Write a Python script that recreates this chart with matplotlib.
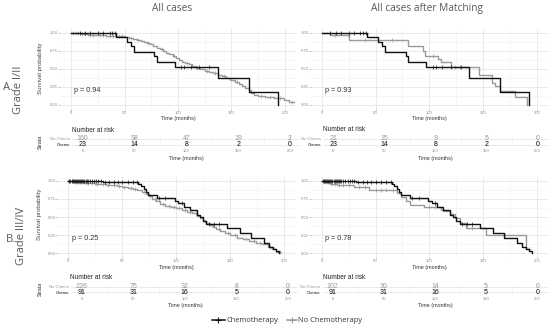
import numpy as np
import matplotlib
matplotlib.use("Agg")
import matplotlib.pyplot as plt
from matplotlib.lines import Line2D

W, H = 550, 327
plt.rcParams['font.family'] = ['Liberation Sans', 'DejaVu Sans']

BLACK = "#111111"
GREY = "#9a9a9a"
LABEL = "#595959"
OUTER_FONT = ['Open Sans', 'DejaVu Sans']

# ---- data ----
# Grade I/II, chemotherapy (same group in both columns)
chemo12_t = [0, 42, 52, 56, 59, 78, 80, 97, 137, 166, 193]
chemo12_s = [1.0, 0.94, 0.87, 0.82, 0.735, 0.67, 0.59, 0.53, 0.37, 0.18, 0.0]
chemo12_end = 193
chemo12_cens = [8, 13, 18, 25, 30, 36, 38, 41, 103, 106, 112, 120, 129]

# Grade I/II, no chemotherapy, all cases
nochemo12_t = [0, 4, 9, 16, 24, 33, 42, 50, 54, 58, 62, 65, 68, 71, 74, 77, 80, 83, 86, 89,
               92, 95, 98, 101, 104, 107, 110, 113, 117, 121, 125, 129, 133, 137, 141, 145,
               149, 153, 157, 160, 163, 166, 168, 171, 175, 181, 190, 199, 204]
nochemo12_s = [1.0, 0.99, 0.98, 0.97, 0.965, 0.955, 0.95, 0.94, 0.925, 0.91, 0.9, 0.885, 0.87,
               0.855, 0.835, 0.815, 0.79, 0.77, 0.745, 0.72, 0.7, 0.675, 0.645, 0.625, 0.6, 0.58,
               0.56, 0.535, 0.515, 0.49, 0.475, 0.46, 0.44, 0.415, 0.395, 0.37, 0.345, 0.315,
               0.29, 0.265, 0.235, 0.2, 0.165, 0.14, 0.12, 0.105, 0.095, 0.07, 0.045]
nochemo12_end = 208
nochemo12_cens = [2, 5, 7, 10, 13, 18, 21, 27, 30, 36, 39, 45, 48, 56, 63, 72, 85, 96, 108,
                  118, 127, 135, 143, 155, 178, 186, 195, 207]

# Grade I/II, no chemotherapy, after matching
nochemo12m_t = [0, 8, 25, 80, 94, 96, 108, 111, 120, 146, 158, 161, 166, 180, 191]
nochemo12m_s = [1.0, 0.965, 0.89, 0.82, 0.745, 0.67, 0.63, 0.60, 0.53, 0.41, 0.31, 0.26, 0.19, 0.11, 0.0]
nochemo12m_end = 191
nochemo12m_cens = [12, 24, 40, 65, 103, 124, 128]

# Grade III/IV, chemotherapy (same group in both columns)
chemo34_t = [0, 32, 57, 65, 67, 70, 72, 74, 82, 99, 102, 107, 113, 119, 122, 125, 128, 147,
             159, 169, 181, 186, 190, 193, 195]
chemo34_s = [1.0, 0.99, 0.98, 0.955, 0.93, 0.895, 0.85, 0.80, 0.765, 0.725, 0.69, 0.64, 0.60,
             0.53, 0.50, 0.45, 0.40, 0.345, 0.275, 0.205, 0.14, 0.09, 0.06, 0.03, 0.0]
chemo34_end = 195
chemo34_cens = [1, 2, 3, 4, 5, 6, 7, 8, 9, 10, 11, 12, 13, 14, 15, 16, 17, 18, 20, 22, 24,
                26, 28, 30, 34, 38, 42, 46, 50, 55, 60, 64, 84, 90, 105, 130, 135, 140]

# Grade III/IV, no chemotherapy, all cases
nochemo34_t = [0, 2, 5, 10, 15, 20, 25, 30, 35, 40, 45, 50, 55, 60, 64, 68, 72, 75, 78, 81,
               85, 90, 95, 100, 105, 110, 115, 119, 122, 125, 128, 131, 134, 137, 141, 145,
               150, 156, 162, 168, 174, 180, 185, 189, 193]
nochemo34_s = [1.0, 0.995, 0.99, 0.98, 0.975, 0.97, 0.965, 0.955, 0.95, 0.94, 0.935, 0.92,
               0.905, 0.89, 0.875, 0.85, 0.82, 0.79, 0.755, 0.72, 0.68, 0.65, 0.64, 0.62, 0.60,
               0.575, 0.55, 0.51, 0.48, 0.45, 0.42, 0.39, 0.365, 0.34, 0.31, 0.28, 0.25, 0.215,
               0.19, 0.165, 0.145, 0.12, 0.09, 0.05, 0.02]
nochemo34_end = 196
nochemo34_cens = [1, 3, 4, 6, 8, 9, 11, 12, 14, 16, 18, 22, 27, 32, 37, 42, 47, 52, 58, 62,
                  70, 76, 80, 88, 93, 98, 103, 108, 113, 118, 127, 133, 140, 148, 155, 165,
                  172, 178, 187, 196]

# Grade III/IV, no chemotherapy, after matching
nochemo34m_t = [0, 3, 8, 14, 30, 44, 70, 74, 78, 82, 95, 111, 113, 119, 124, 128, 134, 153, 190]
nochemo34m_s = [1.0, 0.99, 0.965, 0.94, 0.91, 0.87, 0.84, 0.78, 0.72, 0.665, 0.64, 0.60, 0.58,
                0.54, 0.48, 0.42, 0.345, 0.25, 0.05]
nochemo34m_end = 193
nochemo34m_cens = [2, 4, 6, 10, 12, 16, 20, 25, 35, 40, 50, 55, 60, 66, 100, 105, 140, 170, 193]

risk_times = [0, 50, 100, 150, 200]
risk12_nochemo = [160, 98, 47, 19, 2]
risk12m_nochemo = [21, 15, 9, 5, 0]
risk12_chemo = [23, 14, 8, 2, 0]
risk34_nochemo = [226, 75, 32, 8, 0]
risk34m_nochemo = [102, 30, 14, 5, 0]
risk34_chemo = [91, 31, 16, 5, 0]

pvals = ["p = 0.94", "p = 0.93", "p = 0.25", "p = 0.78"]

fig = plt.figure(figsize=(W / 100, H / 100), dpi=100)


def px_axes(l, t, r, b):
    return fig.add_axes([l / W, 1 - b / H, (r - l) / W, (b - t) / H])


def ftext(x, y, s, **kw):
    kw.setdefault('va', 'center')
    return fig.text(x / W, 1 - y / H, s, **kw)


def style_grid(ax):
    ax.set_xlim(-10, 210)
    ax.set_xticks([0, 50, 100, 150, 200])
    ax.set_xticks([25, 75, 125, 175], minor=True)
    ax.grid(which='major', color='#e2e2e2', lw=0.5)
    ax.grid(which='minor', color='#f0f0f0', lw=0.4)
    ax.set_axisbelow(True)
    for sp in ax.spines.values():
        sp.set_visible(False)


def draw_curve(ax, t, s, end, cens, color):
    ax.step(list(t) + [end], list(s) + [s[-1]], where='post', color=color, lw=1.0)
    idx = np.searchsorted(t, cens, side='right') - 1
    ax.plot(cens, np.asarray(s)[idx], ls='none', marker='+', ms=2.6, mew=0.5, color=color)


def km_panel(box, grey_curve, black_curve, pval):
    ax = px_axes(*box)
    style_grid(ax)
    ax.set_ylim(-0.05, 1.05)
    ax.set_yticks([0, 0.25, 0.5, 0.75, 1.0])
    ax.set_yticks([0.125, 0.375, 0.625, 0.875], minor=True)
    ax.set_yticklabels(["0.00", "0.25", "0.50", "0.75", "1.00"])
    ax.tick_params(which='major', length=1.2, width=0.4, color='#999999',
                   labelsize=3, labelcolor='#8a8a8a', pad=0.4)
    ax.tick_params(which='minor', length=0)
    draw_curve(ax, *grey_curve, GREY)
    draw_curve(ax, *black_curve, BLACK)
    ax.text(3, 0.2, pval, fontsize=5.2, color='#333333', ha='left', va='center')
    return ax


def risk_panel(box, nochemo, chemo):
    ax = px_axes(*box)
    style_grid(ax)
    ax.set_ylim(0.5, 2.5)
    ax.set_yticks([1, 2])
    ax.set_yticklabels(["Chemo", "No Chemo"])
    for lbl, c in zip(ax.get_yticklabels(), [BLACK, GREY]):
        lbl.set_color(c)
    ax.tick_params(axis='y', length=0, labelsize=3.1, pad=1.6)
    ax.tick_params(axis='x', length=0, labelsize=3, labelcolor='#8a8a8a', pad=1.4)
    ax.tick_params(which='minor', length=0)
    for x, n in zip(risk_times, nochemo):
        ax.text(x, 2, str(n), ha='center', va='center', fontsize=5, color=GREY)
    for x, n in zip(risk_times, chemo):
        ax.text(x, 1, str(n), ha='center', va='center', fontsize=5, color=BLACK)
    return ax


c12 = (chemo12_t, chemo12_s, chemo12_end, chemo12_cens)
c34 = (chemo34_t, chemo34_s, chemo34_end, chemo34_cens)

km_panel((60.3, 28.9, 295.7, 108.6), (nochemo12_t, nochemo12_s, nochemo12_end, nochemo12_cens), c12, pvals[0])
km_panel((310.9, 28.9, 547.8, 108.6), (nochemo12m_t, nochemo12m_s, nochemo12m_end, nochemo12m_cens), c12, pvals[1])
km_panel((57.5, 177.4, 294.8, 256.6), (nochemo34_t, nochemo34_s, nochemo34_end, nochemo34_cens), c34, pvals[2])
km_panel((310.9, 177.4, 547.8, 256.6), (nochemo34m_t, nochemo34m_s, nochemo34m_end, nochemo34m_cens), c34, pvals[3])

risk_panel((72.3, 136.25, 300.4, 147.25), risk12_nochemo, risk12_chemo)
risk_panel((323.1, 136.25, 547.5, 147.25), risk12m_nochemo, risk12_chemo)
risk_panel((71.2, 283.9, 298.3, 295.1), risk34_nochemo, risk34_chemo)
risk_panel((322.3, 283.9, 547.5, 295.1), risk34m_nochemo, risk34_chemo)

# axis titles
for x, y in [(178, 118.3), (429, 118.3), (176, 267.3), (429, 267.3),
             (186, 158.3), (435, 158.3), (185, 305.7), (435, 305.7)]:
    ftext(x, y, "Time (months)", ha='center', fontsize=3.9, color='#333333')
ftext(40.7, 68.5, "Survival probability", ha='center', rotation=90, fontsize=4.4, color='#444444')
ftext(39.5, 214, "Survival probability", ha='center', rotation=90, fontsize=4.4, color='#444444')
ftext(40, 141.7, "Strata", ha='center', rotation=90, fontsize=3.8, color='#333333')
ftext(40, 289, "Strata", ha='center', rotation=90, fontsize=3.8, color='#333333')
for x, y in [(71.7, 130), (322.7, 129.3), (70, 277.3), (322.7, 277.3)]:
    ftext(x, y, "Number at risk", ha='left', fontsize=4.7, color='#222222')

# outer labels
ftext(171.7, 8.3, "All cases", ha='center', fontsize=7.3, color=LABEL, family=OUTER_FONT)
ftext(427, 8.3, "All cases after Matching", ha='center', fontsize=7.3, color=LABEL, family=OUTER_FONT)
ftext(8, 87, "A.", ha='center', fontsize=8, color=LABEL, family=OUTER_FONT)
ftext(18.5, 90, "Grade I/II", ha='center', rotation=90, fontsize=8, color=LABEL, family=OUTER_FONT)
ftext(11, 240, "B.", ha='center', fontsize=8, color=LABEL, family=OUTER_FONT)
ftext(22, 236, "Grade III/IV", ha='center', rotation=90, fontsize=8, color=LABEL, family=OUTER_FONT)

# legend
for x1, x2, col, label in [(211.7, 225, BLACK, "Chemotherapy"), (286.7, 296.7, GREY, "No Chemotherapy")]:
    yy = 1 - 320 / H
    fig.add_artist(Line2D([x1 / W, x2 / W], [yy, yy], color=col, lw=1.1))
    fig.add_artist(Line2D([(x1 + x2) / 2 / W], [yy], color=col, marker='+', ms=4, mew=0.8, ls='none'))
    ftext(x2 + 1.6, 320, label, ha='left', fontsize=5.4, color='#333333', family=OUTER_FONT)

fig.savefig("out.png", dpi=100)
